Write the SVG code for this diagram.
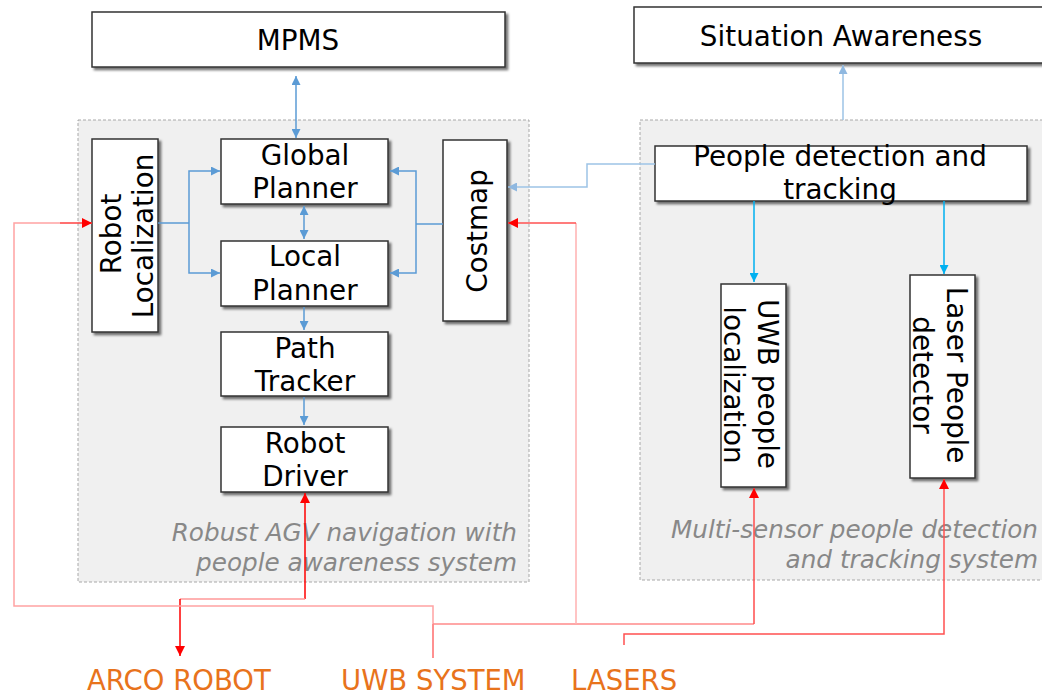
<svg xmlns="http://www.w3.org/2000/svg" width="1042" height="697" viewBox="0 0 1042 697">
<defs>
<filter id="sh" x="-10%" y="-10%" width="130%" height="130%">
<feDropShadow dx="2.5" dy="2.5" stdDeviation="1" flood-color="#000" flood-opacity="0.55"/>
</filter>
<marker id="ab" viewBox="0 0 10 10" refX="10" refY="5" markerWidth="9" markerHeight="9" markerUnits="userSpaceOnUse" orient="auto-start-reverse"><path d="M0,0 L10,5 L0,10 z" fill="#5b9bd5"/></marker>
<marker id="alb" viewBox="0 0 10 10" refX="10" refY="5" markerWidth="9" markerHeight="9" markerUnits="userSpaceOnUse" orient="auto-start-reverse"><path d="M0,0 L10,5 L0,10 z" fill="#8fb8e0"/></marker>
<marker id="ac" viewBox="0 0 10 10" refX="10" refY="5" markerWidth="9" markerHeight="9" markerUnits="userSpaceOnUse" orient="auto-start-reverse"><path d="M0,0 L10,5 L0,10 z" fill="#00b0f0"/></marker>
<marker id="ar" viewBox="0 0 10 10" refX="10" refY="5" markerWidth="10" markerHeight="10" markerUnits="userSpaceOnUse" orient="auto-start-reverse"><path d="M0,0 L10,5 L0,10 z" fill="#ff0000"/></marker>
</defs>
<style>
.panel{fill:#f0f0f0;stroke:#a8a8a8;stroke-width:1;stroke-dasharray:3,2}
.box{fill:#ffffff;stroke:#333333;stroke-width:1.5;filter:url(#sh)}
.t{font-family:"DejaVu Sans",sans-serif;font-size:27.8px;fill:#000;text-anchor:middle}
.it{font-family:"DejaVu Sans",sans-serif;font-size:24.7px;font-style:italic;fill:#888888;text-anchor:end}
.ext{font-family:"DejaVu Sans",sans-serif;font-size:27.5px;fill:#e8731c}
.cb{fill:none;stroke:#5b9bd5;stroke-width:1.5}
.clb{fill:none;stroke:#9dc3e6;stroke-width:1.5}
.cc{fill:none;stroke:#00b0f0;stroke-width:1.5}
.r{fill:none;stroke-width:1.5}
</style>

<g id="panel-nav">
<rect class="panel" x="78" y="120" width="451" height="462"/>
<text class="it" x="517" y="541">Robust AGV navigation with</text>
<text class="it" x="517" y="571">people awareness system</text>
</g>
<g id="panel-people">
<rect class="panel" x="640" y="120" width="410" height="460"/>
<text class="it" x="1038" y="538">Multi-sensor people detection</text>
<text class="it" x="1038" y="568">and tracking system</text>
</g>

<g id="mpms"><rect class="box" x="92" y="12" width="413" height="55"/><text class="t" x="298" y="50">MPMS</text></g>
<g id="situation-awareness"><rect class="box" x="634" y="7" width="420" height="56"/><text class="t" x="841" y="46">Situation Awareness</text></g>

<g id="robot-localization"><rect class="box" x="92" y="139" width="66" height="193"/>
<text class="t" transform="translate(120.5,234) rotate(-90)">Robot</text>
<text class="t" transform="translate(153,236) rotate(-90)">Localization</text></g>
<g id="global-planner"><rect class="box" x="221" y="139" width="167" height="65"/><text class="t" x="305" y="165">Global</text><text class="t" x="305" y="198">Planner</text></g>
<g id="local-planner"><rect class="box" x="221" y="241" width="167" height="65"/><text class="t" x="305" y="266">Local</text><text class="t" x="305" y="300">Planner</text></g>
<g id="path-tracker"><rect class="box" x="221" y="332" width="167" height="64"/><text class="t" x="305" y="358">Path</text><text class="t" x="305" y="391">Tracker</text></g>
<g id="robot-driver"><rect class="box" x="221" y="427" width="167" height="65"/><text class="t" x="305" y="453">Robot</text><text class="t" x="305" y="486">Driver</text></g>
<g id="costmap"><rect class="box" x="443" y="140" width="64" height="181"/>
<text class="t" transform="translate(487,231) rotate(-90)">Costmap</text></g>

<g id="people-detection"><rect class="box" x="655" y="146" width="372" height="55"/>
<text class="t" x="840" y="166">People detection and</text><text class="t" x="840" y="199">tracking</text></g>
<g id="uwb-localization"><rect class="box" x="721" y="284" width="65" height="203"/>
<text class="t" transform="translate(758,384) rotate(90)">UWB people</text>
<text class="t" transform="translate(724,385) rotate(90)">localization</text></g>
<g id="laser-detector"><rect class="box" x="910" y="275" width="65" height="203"/>
<text class="t" transform="translate(947,375) rotate(90)">Laser People</text>
<text class="t" transform="translate(913,375) rotate(90)">detector</text></g>

<g id="arco-robot"><text class="ext" x="87" y="690">ARCO ROBOT</text></g>
<g id="uwb-system"><text class="ext" x="341" y="690">UWB SYSTEM</text></g>
<g id="lasers"><text class="ext" x="571" y="690">LASERS</text></g>

<g id="connectors">
<path class="cb" d="M296,76 L296,138" marker-start="url(#ab)" marker-end="url(#ab)"/>
<path class="cb" d="M158,223 L189,223"/>
<path class="cb" d="M189,223 L189,171 L220,171" marker-end="url(#ab)"/>
<path class="cb" d="M189,223 L189,273 L220,273" marker-end="url(#ab)"/>
<path class="cb" d="M304,206 L304,239" marker-start="url(#ab)" marker-end="url(#ab)"/>
<path class="cb" d="M304,307 L304,330" marker-end="url(#ab)"/>
<path class="cb" d="M304,397 L304,425" marker-end="url(#ab)"/>
<path class="cb" d="M443,224 L416,224"/>
<path class="cb" d="M416,224 L416,171 L390,171" marker-end="url(#ab)"/>
<path class="cb" d="M416,224 L416,273 L390,273" marker-end="url(#ab)"/>
<path class="clb" d="M655,164 L587,164 L587,187 L508,187" marker-end="url(#alb)"/>
<path class="clb" d="M843,120 L843,65" marker-end="url(#alb)"/>
<path class="cc" d="M754,201 L754,282" marker-end="url(#ac)"/>
<path class="cc" d="M944,201 L944,274" marker-end="url(#ac)"/>

<path class="r" stroke="#ff0000" d="M305,493 L305,599" marker-start="url(#ar)"/>
<path class="r" stroke="#ff9999" d="M305,599 L180,599"/>
<path class="r" stroke="#ff0000" d="M180,599 L180,656" marker-end="url(#ar)"/>

<path class="r" stroke="#ff6b6b" d="M433,658 L433,624"/>
<path class="r" stroke="#ffa3a3" d="M433,624 L433,606 L14,606 L14,223 L60,223"/>
<path class="r" stroke="#ff4040" d="M60,223 L92,223" marker-end="url(#ar)"/>
<path class="r" stroke="#ff8a8a" d="M433,624 L754,624"/>
<path class="r" stroke="#ffb0b0" d="M576,624 L576,223"/>
<path class="r" stroke="#ff5050" d="M576,223 L508,223" marker-end="url(#ar)"/>
<path class="r" stroke="#ff4d4d" d="M754,624 L754,488" marker-end="url(#ar)"/>
<path class="r" stroke="#ff5050" d="M624,645 L624,634 L944,634 L944,479" marker-end="url(#ar)"/>
</g>
</svg>
